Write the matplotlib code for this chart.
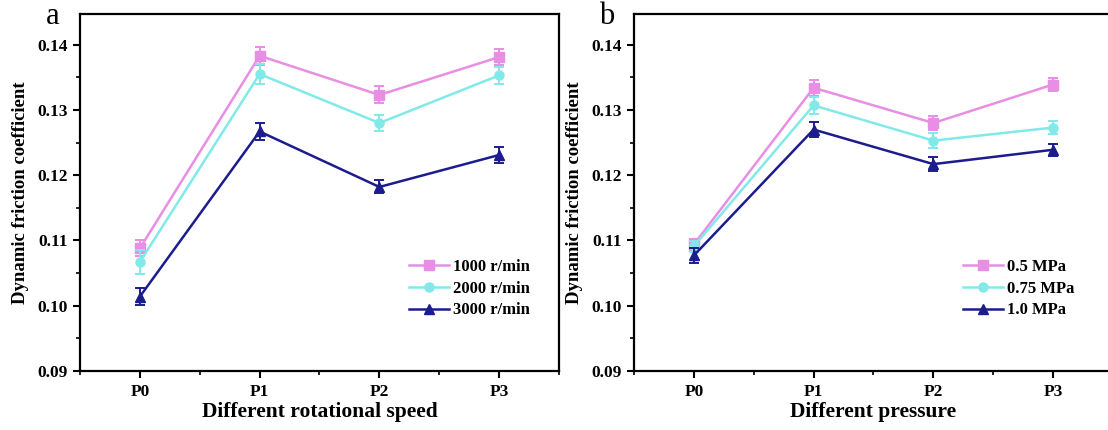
import matplotlib.pyplot as plt
from matplotlib.ticker import MultipleLocator

plt.rcParams["font.family"] = ["Liberation Serif", "DejaVu Serif"]
plt.rcParams["font.weight"] = "bold"

POSITIONS = ["P0", "P1", "P2", "P3"]

# panel a: rotational speed
speed_labels = ["1000 r/min", "2000 r/min", "3000 r/min"]
speed_1000 = [0.1088, 0.1383, 0.1323, 0.1381]
speed_1000_err = [0.0012, 0.0014, 0.0013, 0.0012]
speed_2000 = [0.1067, 0.1355, 0.1280, 0.1353]
speed_2000_err = [0.0018, 0.0015, 0.0012, 0.0013]
speed_3000 = [0.1014, 0.1267, 0.1182, 0.1231]
speed_3000_err = [0.0013, 0.0013, 0.0010, 0.0012]

# panel b: pressure
press_labels = ["0.5 MPa", "0.75 MPa", "1.0 MPa"]
press_05 = [0.1094, 0.1334, 0.1280, 0.1339]
press_05_err = [0.0008, 0.0012, 0.0010, 0.0010]
press_075 = [0.1091, 0.1307, 0.1253, 0.1273]
press_075_err = [0.0008, 0.0013, 0.0012, 0.0010]
press_10 = [0.1077, 0.1270, 0.1217, 0.1239]
press_10_err = [0.0012, 0.0012, 0.0011, 0.0009]

COLORS = ["#E88EE4", "#82E9E9", "#1C1C8E"]
MARKERS = ["s", "o", "^"]


def draw_panel(ax, series, errors, labels, xlabel, letter):
    x = list(range(len(POSITIONS)))
    for vals, errs, lab, c, m in zip(series, errors, labels, COLORS, MARKERS):
        ax.errorbar(x, vals, yerr=errs, fmt="none", ecolor=c,
                    elinewidth=1.4, capsize=3.5, capthick=1.4)
        ax.plot(x, vals, color=c, marker=m, markersize=6.5, linewidth=1.8,
                label=lab)
    ax.set_xlim(-0.5, 3.5)
    ax.set_ylim(0.09, 0.1447)
    ax.set_xticks(x)
    ax.set_xticklabels(POSITIONS)
    ax.xaxis.set_minor_locator(MultipleLocator(0.5))
    ax.yaxis.set_major_locator(MultipleLocator(0.01))
    ax.yaxis.set_minor_locator(MultipleLocator(0.005))
    ax.yaxis.set_major_formatter(plt.FormatStrFormatter("%.2f"))
    ax.tick_params(which="major", direction="out", length=5, width=1.5,
                   labelsize=12.5, top=False, right=False, pad=4)
    ax.tick_params(which="minor", direction="out", length=3, width=1.2,
                   top=False, right=False)
    for sp in ax.spines.values():
        sp.set_linewidth(1.6)
    ax.set_xlabel(xlabel, fontsize=15.5, fontweight="bold", labelpad=2)
    ax.set_ylabel("Dynamic friction coefficient", fontsize=13.5,
                  fontweight="bold", labelpad=6)
    ax.legend(loc="upper left", bbox_to_anchor=(0.673, 0.333), frameon=False,
              fontsize=12, handlelength=2.4, handletextpad=0.25,
              labelspacing=0.35, borderaxespad=0)
    ax.text(-0.058, 0.994, letter, transform=ax.transAxes, fontsize=22,
            fontweight="normal", va="center", ha="center")


fig = plt.figure(figsize=(11.08, 4.30), dpi=100)
ax_a = fig.add_axes([0.0722, 0.1372, 0.4323, 0.8302])
ax_b = fig.add_axes([0.5722, 0.1372, 0.4323, 0.8302])

draw_panel(ax_a, [speed_1000, speed_2000, speed_3000],
           [speed_1000_err, speed_2000_err, speed_3000_err],
           speed_labels, "Different rotational speed", "a")
draw_panel(ax_b, [press_05, press_075, press_10],
           [press_05_err, press_075_err, press_10_err],
           press_labels, "Different pressure", "b")

fig.savefig("out.png", dpi=100)
